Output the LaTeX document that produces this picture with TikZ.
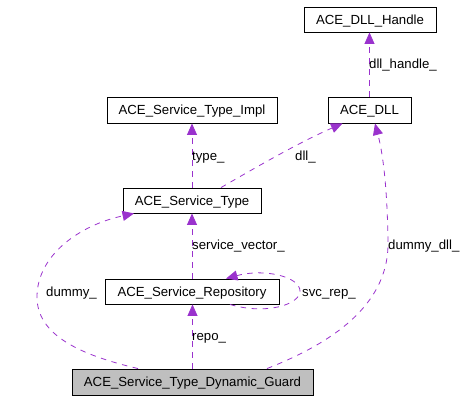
\documentclass[tikz,border=0pt]{standalone}
\usepackage{fontspec}
\setmainfont{Liberation Sans}
\usetikzlibrary{arrows.meta}
\definecolor{edgec}{HTML}{9A32CD}
\begin{document}
\begin{tikzpicture}[x=1pt,y=-1pt,
  box/.style={draw=black,line width=0.9pt,inner sep=0pt,font=\fontsize{13.2}{15}\selectfont,text height=9.5pt,text depth=0pt},
  lbl/.style={anchor=base west,inner sep=0pt,font=\fontsize{13.2}{15}\selectfont},
  uses/.style={draw=edgec,line width=0.8pt,dash pattern=on 5.5pt off 5.5pt,-{Triangle[length=11.5pt,width=10pt,fill=edgec]}}]
\useasboundingbox (0,0) rectangle (472,400);
\node[box,minimum width=132pt,minimum height=25pt] (handle) at (370,19.5) {ACE\_DLL\_Handle};
\node[box,minimum width=170pt,minimum height=26pt] (impl) at (192,110) {ACE\_Service\_Type\_Impl};
\node[box,minimum width=83pt,minimum height=26pt] (dll) at (369.5,110) {ACE\_DLL};
\node[box,minimum width=138pt,minimum height=25pt] (stype) at (192,200.5) {ACE\_Service\_Type};
\node[box,minimum width=174pt,minimum height=25pt] (repo) at (192,291.5) {ACE\_Service\_Repository};
\node[box,fill=black!25,minimum width=241pt,minimum height=26pt] (guard) at (192.5,382) {ACE\_Service\_Type\_Dynamic\_Guard};

\draw[uses] (dll.north) -- (dll.north |- handle.south);
\node[lbl] (l1) at (369,68) {dll\_handle\_};

\draw[uses] (stype.north) -- (impl.south);
\node[lbl] (l2) at (192,160) {type\_};

\draw[uses] ([xshift=29pt]stype.north) .. controls (260,165) and (300,142) .. ([xshift=-27pt]dll.south);
\node[lbl] (l3) at (295,160) {dll\_};

\draw[uses] (repo.north) -- (stype.south);
\node[lbl] (l4) at (192,249) {service\_vector\_};

\draw[uses] ([xshift=74.5pt]guard.north) .. controls (340,340) and (390,300) .. (388,240) .. controls (387,180) and (382,150) .. ([xshift=5.5pt]dll.south);
\node[lbl] (l5) at (388,249) {dummy\_dll\_};

\draw[uses] ([xshift=-54.5pt]guard.north) .. controls (80,355) and (37,335) .. (37,297) .. controls (37,255) and (80,225) .. ([xshift=-58pt]stype.south);
\node[lbl] (l6) at (46,296) {dummy\_};

\draw[uses] ([xshift=38pt]repo.south) .. controls (265,315) and (300,305) .. (300,291) .. controls (300,277) and (265,268) .. ([xshift=34pt]repo.north);
\node[lbl] (l7) at (302,296) {svc\_rep\_};

\draw[uses] (guard.north) -- (guard.north |- repo.south);
\node[lbl] (l8) at (192,340) {repo\_};
\end{tikzpicture}
\end{document}
